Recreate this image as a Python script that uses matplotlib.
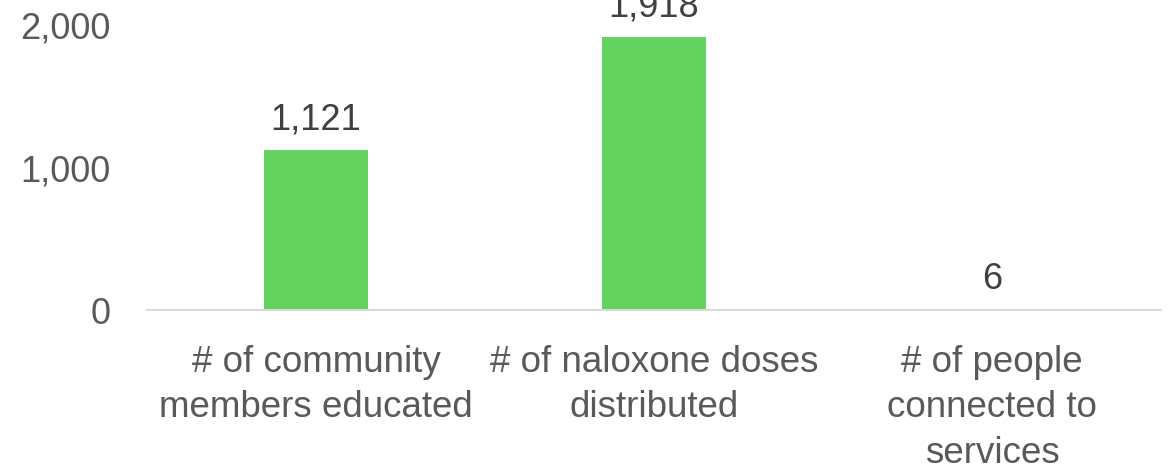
import matplotlib.pyplot as plt
from matplotlib.ticker import FuncFormatter

# Outreach results
categories = ["# of community\nmembers educated",
              "# of naloxone doses\ndistributed",
              "# of people\nconnected to\nservices"]
values = [1121, 1918, 6]
yticks = [0, 1000, 2000]

plt.rcParams['font.family'] = ['Liberation Sans', 'DejaVu Sans']

fig = plt.figure(figsize=(11.71, 4.70), dpi=100)
ax = fig.add_axes([0.1255, 0.3394, 0.8659, 0.6078])

x = range(len(values))
bars = ax.bar(x, values, width=0.31, color="#64D25E")

# value labels above each bar
for b, v in zip(bars, values):
    ax.annotate(f"{v:,}", (b.get_x() + b.get_width() / 2, v),
                xytext=(0, 9), textcoords="offset points",
                ha="center", va="bottom", fontsize=26, color="#404040",
                annotation_clip=False)

ax.set_xlim(-0.5, len(values) - 0.5)
ax.set_ylim(0, 2000)
ax.set_yticks(yticks)
ax.yaxis.set_major_formatter(FuncFormatter(lambda v, p: f"{int(v):,}"))
ax.set_xticks(list(x))
ax.set_xticklabels(categories, linespacing=1.4)

ax.tick_params(axis="y", length=0, pad=26.5, labelsize=26, labelcolor="#595959")
ax.tick_params(axis="x", length=0, pad=24.5, labelsize=26.5, labelcolor="#595959")

for s in ["top", "right", "left"]:
    ax.spines[s].set_visible(False)
ax.spines["bottom"].set_color("#D9D9D9")
ax.spines["bottom"].set_linewidth(1.5)

fig.savefig("out.png", dpi=100)
